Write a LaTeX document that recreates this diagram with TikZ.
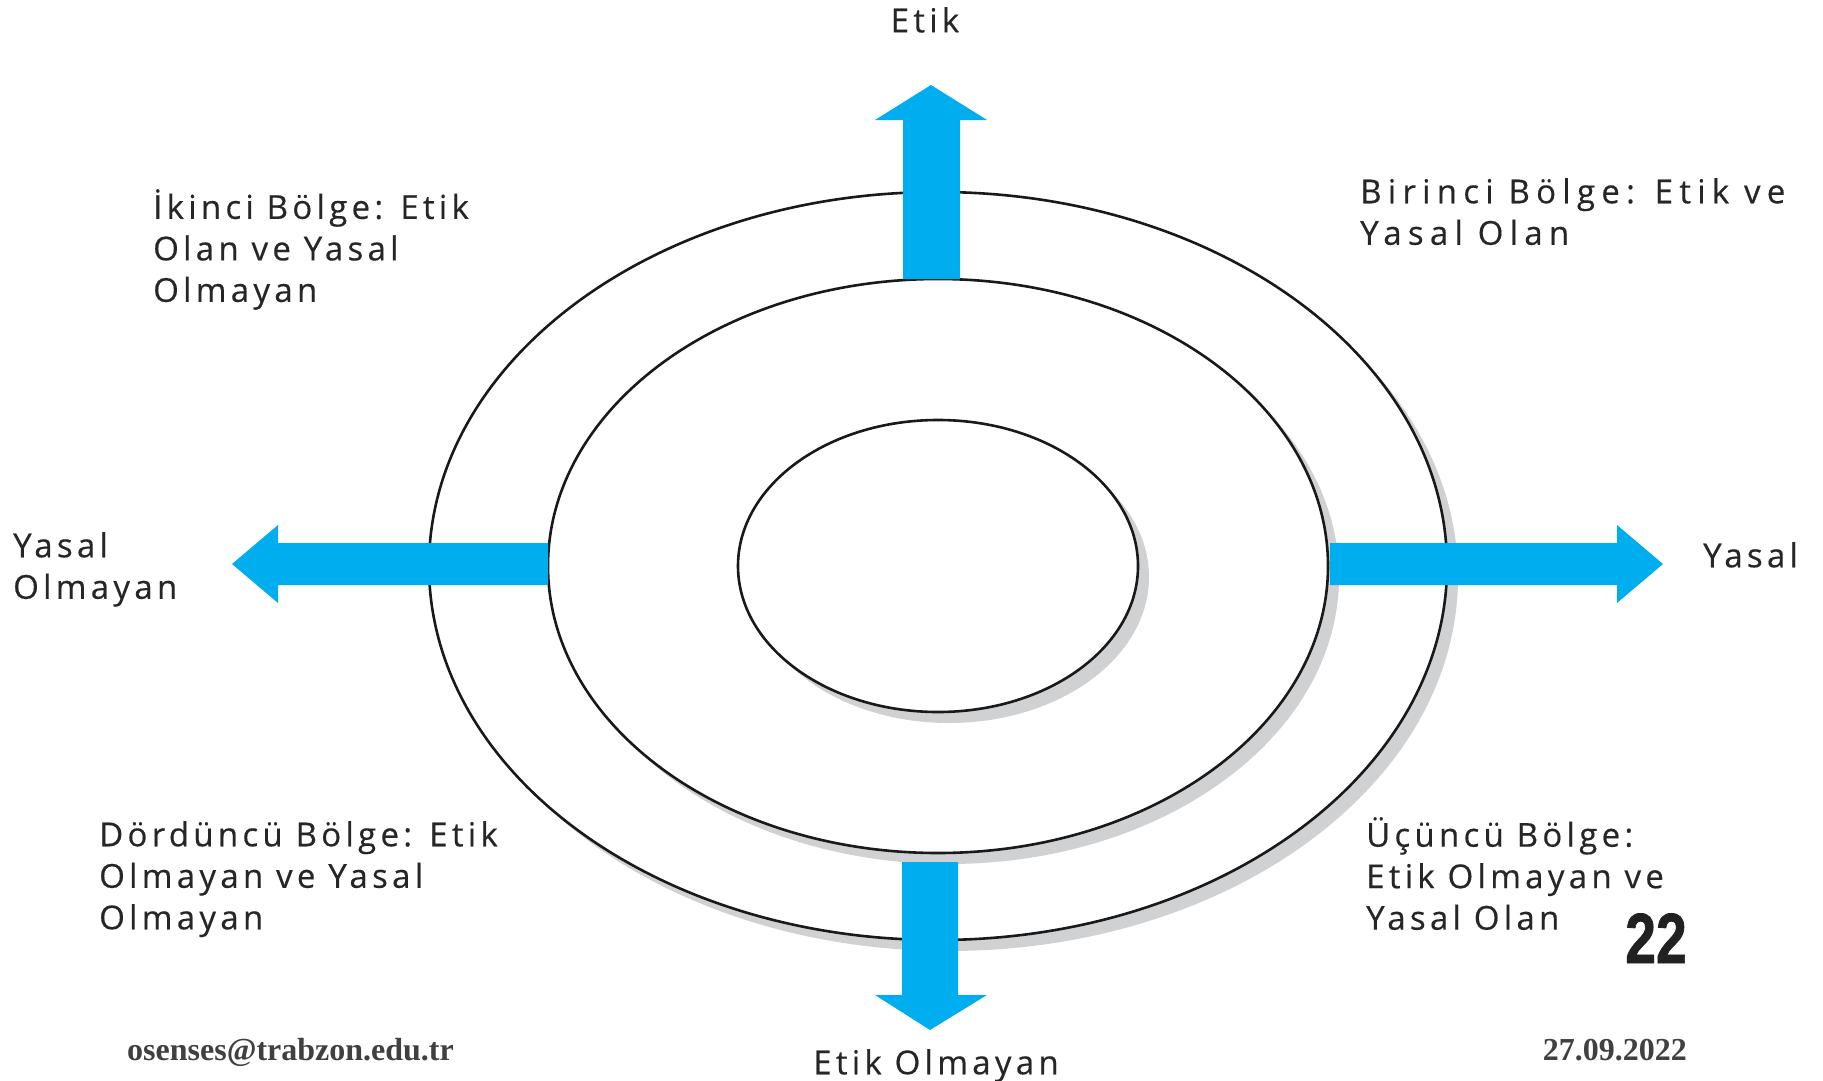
\documentclass[tikz,border=0pt]{standalone}
\usepackage{fontspec}
\usepackage{graphicx}
\usetikzlibrary{shapes.geometric}
\setmainfont{Open Sans}
\newfontfamily\zonefont{Open Sans}[LetterSpace=13, Ligatures=NoCommon, FakeBold=0.4]
\newfontfamily\widezonefont{Open Sans}[LetterSpace=19, Ligatures=NoCommon, FakeBold=0.4]
\newfontfamily\footfont{Liberation Serif}
\newfontfamily\pagefont{Liberation Sans}[FakeBold=1.2]
\definecolor{arrowblue}{RGB}{0,174,239}
\definecolor{shadowgray}{RGB}{208,209,211}
\definecolor{footgray}{RGB}{64,64,64}

\begin{document}
\begin{tikzpicture}[x=1pt, y=-1pt,
  ring/.style={ellipse, draw=black!90, line width=2.6pt, fill=white, inner sep=0pt},
  ringshadow/.style={ellipse, fill=shadowgray, inner sep=0pt},
  bluearrow/.style={fill=arrowblue},
  zonelabel/.style={anchor=north west, align=left, inner sep=0pt, text=black!85,
    font=\zonefont\fontsize{33}{41.5}\selectfont},
  footer/.style={inner sep=0pt, text=footgray, font=\footfont\bfseries\fontsize{32}{38}\selectfont}]
  \useasboundingbox (0,0) rectangle (1823,1081);

  % --- Halkalar (golge + beyaz elips) ---
  \node[ringshadow, minimum width=1018pt, minimum height=748pt] (outershadow) at (949,577) {};
  \node[ring, minimum width=1018pt, minimum height=748pt] (outer) at (938,566) {};
  \node[ringshadow, minimum width=780pt, minimum height=574pt] (middleshadow) at (949,577) {};
  \node[ring, minimum width=780pt, minimum height=574pt] (middle) at (938,566) {};
  \node[ringshadow, minimum width=400pt, minimum height=292pt] (innershadow) at (949,577) {};
  \node[ring, minimum width=400pt, minimum height=292pt] (inner) at (938,566) {};

  % --- Oklar ---
  % yukari: Etik
  \fill[bluearrow] (903,279) -- (903,120) -- (875,120) -- (931,85) -- (987,120) -- (960,120) -- (960,279) -- cycle;
  % asagi: Etik Olmayan
  \fill[bluearrow] (902,862) -- (902,995) -- (875,995) -- (930,1030) -- (987,995) -- (958,995) -- (958,862) -- cycle;
  % saga: Yasal
  \fill[bluearrow] (1330,543) -- (1617,543) -- (1617,525) -- (1663,564) -- (1617,603) -- (1617,585) -- (1330,585) -- cycle;
  % sola: Yasal Olmayan
  \fill[bluearrow] (548,543) -- (278,543) -- (278,525) -- (232,564) -- (278,603) -- (278,585) -- (548,585) -- cycle;

  % --- Eksen etiketleri ---
  \node[zonelabel, anchor=north] (etik) at (925,3) {\strut Etik};
  \node[zonelabel, anchor=north] (etikolmayan) at (936,1045) {\strut Etik Olmayan};
  \node[zonelabel] (yasal) at (1703,538) {\strut Yasal};
  \node[zonelabel] (yasalolmayan) at (13,528) {\strut Yasal\\Olmayan};

  % --- Bolgeler ---
  \node[zonelabel, font=\widezonefont\fontsize{33}{41.5}\selectfont] (birinci) at (1360,174) {\strut Birinci Bölge: Etik ve\\Yasal Olan};
  \node[zonelabel] (ikinci) at (153,189) {\strut İkinci Bölge: Etik\\Olan ve Yasal\\Olmayan};
  \node[zonelabel] (ucuncu) at (1366,817) {\strut Üçüncü Bölge:\\Etik Olmayan ve\\Yasal Olan};
  \node[zonelabel] (dorduncu) at (99,817) {\strut Dördüncü Bölge: Etik\\Olmayan ve Yasal\\Olmayan};

  % --- Sayfa alti ---
  \node[anchor=base east, inner sep=0pt, text=black!87,
    font=\pagefont\bfseries\fontsize{71}{71}\selectfont] (sayfa) at (1687,963) {\scalebox{0.78}[1]{22}};
  \node[footer, anchor=base west] (eposta) at (127,1060) {osenses@trabzon.edu.tr};
  \node[footer, anchor=base east] (tarih) at (1687,1060) {27.09.2022};
\end{tikzpicture}
\end{document}
